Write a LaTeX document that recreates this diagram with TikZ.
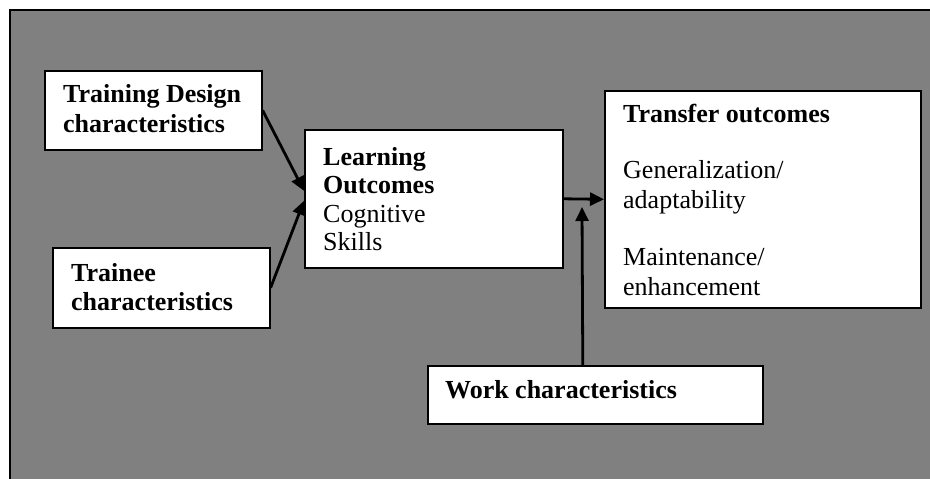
\documentclass[tikz,border=0pt]{standalone}
\usepackage{fontspec}
\setmainfont{Liberation Serif}
\usetikzlibrary{arrows.meta}
\definecolor{panelgray}{HTML}{808080}
\begin{document}
\begin{tikzpicture}[x=1pt,y=-1pt,
  box/.style={draw=black,fill=white,line width=1.6pt,inner sep=0pt,anchor=north west},
  txt/.style={inner sep=0pt,anchor=base west,font=\fontsize{26}{30}\selectfont},
  head/.style={txt,font=\fontsize{26}{30}\selectfont\bfseries},
  link/.style={line width=2.8pt,-{Triangle[length=14pt,width=13pt]}}]
  \useasboundingbox (0,0) rectangle (930,479);
  % panel
  \fill[panelgray] (10,10) rectangle (930,479);
  \draw[line width=2pt] (10,479) -- (10,10) -- (930,10);

  % boxes
  \node[box,minimum width=217pt,minimum height=79pt] (td) at (44,70) {};
  \node[box,minimum width=217pt,minimum height=80pt] (tr) at (52,247) {};
  \node[box,minimum width=258pt,minimum height=138pt] (lo) at (304,129) {};
  \node[box,minimum width=316pt,minimum height=217pt] (to) at (604,90) {};
  \node[box,minimum width=335pt,minimum height=58pt] (wc) at (427,365) {};

  % box texts
  \node[head] (td1) at (63,102) {Training Design};
  \node[head] (td2) at (63,132) {characteristics};
  \node[head] (tr1) at (71,281) {Trainee};
  \node[head] (tr2) at (71,310) {characteristics};
  \node[head] (lo1) at (323,165) {Learning};
  \node[head] (lo2) at (323,193) {Outcomes};
  \node[txt]  (lo3) at (323,222) {Cognitive};
  \node[txt]  (lo4) at (323,250) {Skills};
  \node[head] (to1) at (623,122) {Transfer outcomes};
  \node[txt]  (to2) at (623,178) {Generalization/};
  \node[txt]  (to3) at (623,208) {adaptability};
  \node[txt]  (to4) at (623,265) {Maintenance/};
  \node[txt]  (to5) at (623,295) {enhancement};
  \node[head] (wc1) at (445,398) {Work characteristics};

  % connectors
  \coordinate (j) at (582,207);
  \draw[link] (td.east) -- ([yshift=8pt]lo.west);
  \draw[link] (tr.east) -- ([yshift=-2pt]lo.west);
  \draw[link] (lo.east) -- (to.west);
  \draw[link] ([xshift=-12.5pt]wc.north) -- (j);
\end{tikzpicture}
\end{document}
